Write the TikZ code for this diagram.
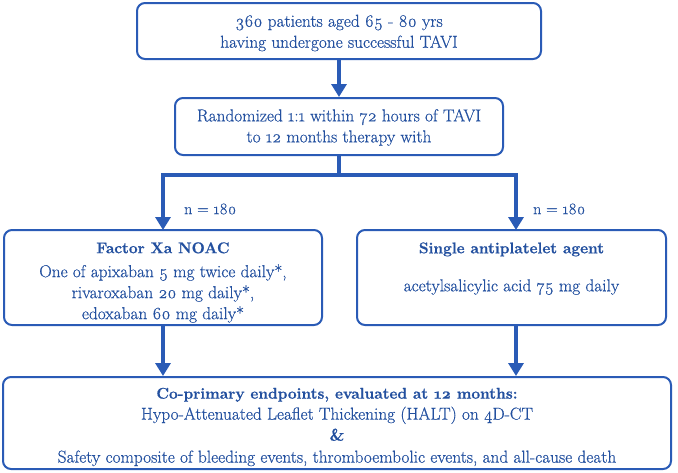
\documentclass[tikz,border=0pt]{standalone}
\usepackage{fontspec}
\setmainfont{Latin Modern Roman}[Numbers=OldStyle, UprightFeatures={FakeBold=0.6}, BoldFeatures={FakeBold=0.9}]
\usetikzlibrary{arrows.meta}
\definecolor{tblue}{HTML}{23509F}
\definecolor{lblue}{HTML}{2A5BB6}
\newcommand{\bt}[1]{{\fontsize{15.5}{21}\selectfont\bfseries #1}}
\tikzset{
  boxnode/.style={draw=lblue, line width=2pt, rounded corners=8pt, inner sep=0pt},
  txt/.style={align=center, text=tblue, inner sep=0pt, font=\fontsize{17.3}{21}\selectfont},
  arr/.style={draw=lblue, line width=4pt, -{Triangle[width=15pt,length=13pt]}},
  seg/.style={draw=lblue, line width=4pt},
  nlab/.style={text=tblue, font=\fontsize{16}{21}\selectfont, inner sep=0pt}
}
\begin{document}
\begin{tikzpicture}[x=1pt,y=-1pt]
\useasboundingbox (0,0) rectangle (678,472);
\node[boxnode, minimum width=404pt, minimum height=56pt] (b1) at (339,31) {};
\node[boxnode, minimum width=328pt, minimum height=57pt] (b2) at (339,126.5) {};
\node[boxnode, minimum width=318pt, minimum height=95pt] (b3) at (163,277.5) {};
\node[boxnode, minimum width=309pt, minimum height=95pt] (b4) at (511.5,277.5) {};
\node[boxnode, minimum width=668pt, minimum height=92pt] (b5) at (337,423) {};
\node[txt] (t1) at (339,33)
  {360 patients aged 65 - 80 yrs\\having undergone successful TAVI};
\node[txt] (t2) at (339,127.5)
  {Randomized 1:1 within 72 hours of TAVI\\to 12 months therapy with};
\node[txt] (t3txt) at (163,282.5)
  {\bt{Factor Xa NOAC}\\[3pt]One of apixaban 5 mg twice daily*,\\rivaroxaban 20 mg daily*,\\edoxaban 60 mg daily*};
\node[txt] (t4txt) at (511.5,280.5)
  {\bt{Single antiplatelet agent}\\[17pt]acetylsalicylic acid 75 mg daily\\ \strut};
\node[txt] (t5) at (337,427)
  {\bt{Co-primary endpoints, evaluated at 12 months:}\\Hypo-Attenuated Leaflet Thickening (HALT) on 4D-CT\\{\fontsize{17}{20}\selectfont\bfseries\&}\\[1pt]Safety composite of bleeding events, thromboembolic events, and all-cause death};
\coordinate (j) at (339,175);
\coordinate (t3) at (163,230);
\coordinate (t4) at (516,230);
\coordinate (s4) at (516,325);
\draw[arr] (b1.south) -- (b2.north);
\draw[seg] (b2.south) -- (j);
\draw[arr] (j) -| (t3);
\draw[arr] (j) -| (t4);
\draw[arr] (b3.south) -- (b5.north -| b3.south);
\draw[arr] (s4) -- (b5.north -| s4);
\node[nlab, anchor=west] (n1) at (184,209) {n = 180};
\node[nlab, anchor=west] (n2) at (533,209) {n = 180};
\end{tikzpicture}
\end{document}
